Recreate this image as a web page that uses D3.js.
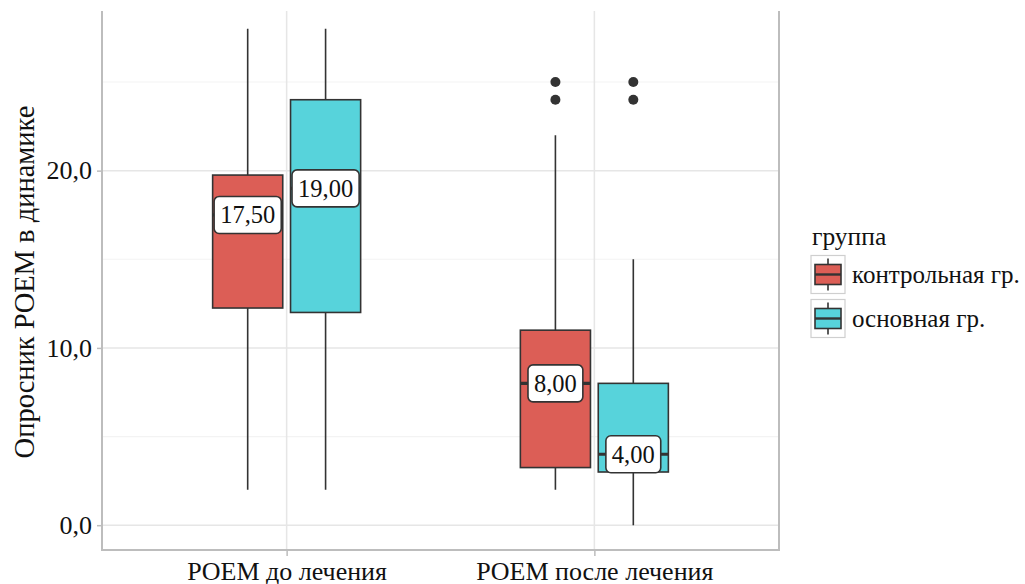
<!DOCTYPE html>
<html>
<head>
<meta charset="utf-8">
<script src="https://cdn.jsdelivr.net/npm/d3@7"></script>
<style>
  html, body { margin: 0; padding: 0; background: #fff; }
  svg { display: block; font-family: "Liberation Serif", "Times New Roman", serif; }
</style>
</head>
<body>
<div id="chart"></div>
<script>
//Datos
const categories = ['POEM до лечения', 'POEM после лечения'];
const groups = ['контрольная гр.', 'основная гр.'];
//[min, q1, mediana, q3, max] por categoria
const controlStats = [[2, 12.25, 17.5, 19.75, 28], [2, 3.25, 8, 11, 22]];
const mainStats = [[2, 12, 19, 24, 28], [0, 3, 4, 8, 15]];
const controlOutliers = [[], [24, 25]];
const mainOutliers = [[], [24, 25]];
const yTicks = [0, 10, 20];
const yMinor = [5, 15, 25];

//Colores
const COLOR_CONTROL = '#DC5E56',
    COLOR_MAIN = '#57D3DB',
    COLOR_LINE = '#333333',
    COLOR_AXIS = '#BDBDBD';

let data = [];
categories.forEach(function(c, i) {
    data.push({cat: c, group: groups[0], s: controlStats[i], out: controlOutliers[i]});
    data.push({cat: c, group: groups[1], s: mainStats[i], out: mainOutliers[i]});
});

let W = 1025, H = 584;
let panel = {left: 102, right: 779, top: 11, bottom: 550};

let svg = d3.select('#chart').append('svg')
    .attr('width', W)
    .attr('height', H);

let x = d3.scalePoint()
    .domain(categories)
    .range([panel.left, panel.right])
    .padding(0.6);

let xSub = d3.scaleBand()
    .domain(groups)
    .range([-74, 74])
    .paddingInner(0.1);

let y = d3.scaleLinear()
    .domain([-1.4, 29.4])
    .range([panel.bottom, 4]);

let color = d3.scaleOrdinal().domain(groups).range([COLOR_CONTROL, COLOR_MAIN]);

let fmtTick = function(d) { return d3.format('.1f')(d).replace('.', ','); };
let fmtLabel = function(d) { return d3.format('.2f')(d).replace('.', ','); };

//Rejilla
let grid = svg.append('g');
grid.selectAll('.minor').data(yMinor).enter().append('line')
    .attr('x1', panel.left).attr('x2', panel.right)
    .attr('y1', function(d) { return y(d); }).attr('y2', function(d) { return y(d); })
    .attr('stroke', '#F3F3F3').attr('stroke-width', 1.2);
grid.selectAll('.major').data(yTicks).enter().append('line')
    .attr('x1', panel.left).attr('x2', panel.right)
    .attr('y1', function(d) { return y(d); }).attr('y2', function(d) { return y(d); })
    .attr('stroke', '#E6E6E6').attr('stroke-width', 1.5);
grid.selectAll('.vert').data(categories).enter().append('line')
    .attr('x1', function(d) { return x(d); }).attr('x2', function(d) { return x(d); })
    .attr('y1', panel.top).attr('y2', panel.bottom)
    .attr('stroke', '#E6E6E6').attr('stroke-width', 1.5);

//Ejes
let yAxis = svg.append('g')
    .attr('transform', 'translate(' + panel.left + ',0)')
    .call(d3.axisLeft(y).tickValues(yTicks).tickFormat(fmtTick).tickSize(5).tickPadding(5))
    .attr('font-family', null)
    .attr('font-size', '26px');
yAxis.select('.domain').remove();
yAxis.selectAll('.tick line').attr('stroke', COLOR_AXIS).attr('stroke-width', 1.5);
yAxis.selectAll('.tick text').attr('fill', '#111');

let xAxis = svg.append('g')
    .attr('transform', 'translate(0,' + panel.bottom + ')')
    .call(d3.axisBottom(x).tickSize(6).tickPadding(8))
    .attr('font-family', null)
    .attr('font-size', '26px');
xAxis.select('.domain').remove();
xAxis.selectAll('.tick line').attr('stroke', COLOR_AXIS).attr('stroke-width', 1.5);
xAxis.selectAll('.tick text')
    .attr('fill', '#111')
    .attr('dy', null).attr('y', 30);

svg.append('line')
    .attr('x1', panel.left).attr('x2', panel.left)
    .attr('y1', panel.top).attr('y2', panel.bottom + 1)
    .attr('stroke', COLOR_AXIS).attr('stroke-width', 2);
svg.append('line')
    .attr('x1', panel.left - 1).attr('x2', panel.right + 1)
    .attr('y1', panel.bottom).attr('y2', panel.bottom)
    .attr('stroke', COLOR_AXIS).attr('stroke-width', 2);
svg.append('line')
    .attr('x1', panel.right).attr('x2', panel.right)
    .attr('y1', panel.top).attr('y2', panel.bottom + 1)
    .attr('stroke', COLOR_AXIS).attr('stroke-width', 2);

//Titulo eje Y
svg.append('text')
    .attr('transform', 'translate(34,' + 282 + ') rotate(-90)')
    .attr('text-anchor', 'middle')
    .attr('font-size', '28.5px')
    .attr('fill', '#111')
    .text('Опросник POEM в динамике');

//Cajas
let boxes = svg.append('g').selectAll('g')
    .data(data)
    .enter()
    .append('g')
    .attr('transform', function(d) { return 'translate(' + (x(d.cat) + xSub(d.group) + xSub.bandwidth() / 2) + ',0)'; });

let bw = xSub.bandwidth();

boxes.append('line')
    .attr('x1', 0).attr('x2', 0)
    .attr('y1', function(d) { return y(d.s[0]); })
    .attr('y2', function(d) { return y(d.s[4]); })
    .attr('stroke', COLOR_LINE).attr('stroke-width', 1.6);

boxes.append('rect')
    .attr('x', -bw / 2)
    .attr('width', bw)
    .attr('y', function(d) { return y(d.s[3]); })
    .attr('height', function(d) { return y(d.s[1]) - y(d.s[3]); })
    .attr('fill', function(d) { return color(d.group); })
    .attr('stroke', COLOR_LINE).attr('stroke-width', 1.6);

boxes.append('line')
    .attr('x1', -bw / 2).attr('x2', bw / 2)
    .attr('y1', function(d) { return y(d.s[2]); })
    .attr('y2', function(d) { return y(d.s[2]); })
    .attr('stroke', COLOR_LINE).attr('stroke-width', 3.2);

boxes.selectAll('circle')
    .data(function(d) { return d.out; })
    .enter()
    .append('circle')
    .attr('cx', 0)
    .attr('cy', function(d) { return y(d); })
    .attr('r', 5)
    .attr('fill', COLOR_LINE);

//Etiquetas de la mediana
boxes.each(function(d) {
    let g = d3.select(this);
    let lab = g.append('g').attr('transform', 'translate(0,' + y(d.s[2]) + ')');
    let rect = lab.append('rect');
    let txt = lab.append('text')
        .attr('text-anchor', 'middle')
        .attr('dy', '0.34em')
        .attr('font-size', '24.5px')
        .attr('fill', '#111')
        .text(fmtLabel(d.s[2]));
    let tw = txt.node().getComputedTextLength();
    rect.attr('x', -tw / 2 - 6).attr('width', tw + 12)
        .attr('y', -18.5).attr('height', 37)
        .attr('rx', 5).attr('ry', 5)
        .attr('fill', '#fff')
        .attr('stroke', COLOR_LINE).attr('stroke-width', 1.6);
});

//Leyenda
let legend = svg.append('g');
legend.append('text')
    .attr('x', 812).attr('y', 245)
    .attr('font-size', '25.5px').attr('fill', '#111')
    .text('группа');

let keys = legend.selectAll('.key')
    .data(groups)
    .enter()
    .append('g')
    .attr('transform', function(d, i) { return 'translate(828,' + (274.5 + i * 44) + ')'; });

keys.append('rect')
    .attr('x', -17).attr('y', -19).attr('width', 34).attr('height', 38)
    .attr('fill', '#fff').attr('stroke', '#CFCFCF').attr('stroke-width', 1.2);
keys.append('line')
    .attr('x1', 0).attr('x2', 0).attr('y1', -16).attr('y2', 16)
    .attr('stroke', COLOR_LINE).attr('stroke-width', 1.6);
keys.append('rect')
    .attr('x', -13).attr('y', -10).attr('width', 26).attr('height', 20)
    .attr('fill', function(d) { return color(d); })
    .attr('stroke', COLOR_LINE).attr('stroke-width', 1.6);
keys.append('line')
    .attr('x1', -13).attr('x2', 13).attr('y1', 0).attr('y2', 0)
    .attr('stroke', COLOR_LINE).attr('stroke-width', 2.4);
keys.append('text')
    .attr('x', 24).attr('y', 8.5)
    .attr('font-size', '25px').attr('fill', '#111')
    .text(function(d) { return d; });
</script>
</body>
</html>
